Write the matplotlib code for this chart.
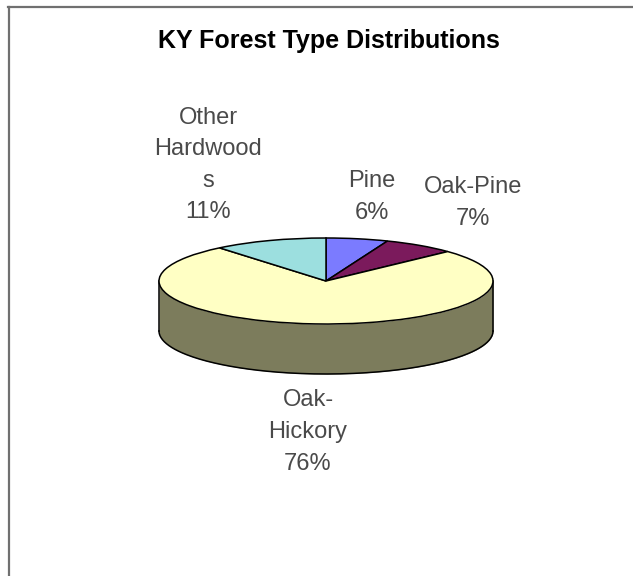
# KY forest type pie, drawn to look like the old Excel 3D pie
import matplotlib
matplotlib.use("Agg")
import matplotlib.pyplot as plt
import numpy as np

plt.rcParams['font.family'] = ['Liberation Sans', 'DejaVu Sans']

title = "KY Forest Type Distributions"
categories = ["Pine", "Oak-Pine", "Oak-Hickory", "Other Hardwoods"]
values = [6, 7, 76, 11]
colors = ["#7B7BFF", "#7B1A5C", "#FFFFC4", "#9CDFDF"]
side_color = "#7C7C5C"

W, H = 633, 576
CX, CY, RX, RY, DEPTH = 326, 281, 167, 43, 50

fig = plt.figure(figsize=(W / 100, H / 100), dpi=100)
ax = fig.add_axes([0, 0, 1, 1])

# axes units are one pie radius, so a unit circle becomes the flat ellipse
ax.pie(values, colors=colors, startangle=90, counterclock=False, radius=1,
       wedgeprops={"edgecolor": "black", "linewidth": 1.1, "zorder": 3})
ax.set_aspect("auto")
ax.set_xlim(-CX / RX, (W - CX) / RX)
ax.set_ylim(-(H - CY) / RY, CY / RY)
ax.axis("off")

# side wall under the front half of the pie
theta = np.linspace(np.pi, 2 * np.pi, 200)
drop = DEPTH / RY
ax.fill_between(np.cos(theta), np.sin(theta), np.sin(theta) - drop,
                color=side_color, zorder=1, linewidth=0)
ax.plot(np.cos(theta), np.sin(theta) - drop, color="black", lw=1.1, zorder=2)
ax.plot([-1, -1], [0, -drop], color="black", lw=1.1, zorder=2)
ax.plot([1, 1], [0, -drop], color="black", lw=1.1, zorder=2)


def put_text(x, y, s, **kw):
    # x, y are picture pixels
    fig.text(x / W, 1 - y / H, s, ha="center", va="center", **kw)


put_text(329, 41, title, fontsize=18, fontweight="bold", color="black")

label_style = dict(fontsize=17, color="#4a4a4a", linespacing=1.56)
put_text(208, 165, "Other\nHardwood\ns\n" + str(values[3]) + "%", **label_style)
put_text(372, 197, categories[0] + "\n" + str(values[0]) + "%", **label_style)
put_text(473, 203, categories[1] + "\n" + str(values[1]) + "%", **label_style)
put_text(308, 432, "Oak-\nHickory\n" + str(values[2]) + "%", **label_style)

# chart frame, only the left and top edges are in the crop
fig.add_artist(plt.Line2D([8.5 / W, 8.5 / W], [0, 1 - 7 / H], color="#707070", lw=1.6))
fig.add_artist(plt.Line2D([8 / W, 1], [1 - 7 / H, 1 - 7 / H], color="#707070", lw=1.6))

fig.savefig("out.png", dpi=100)
